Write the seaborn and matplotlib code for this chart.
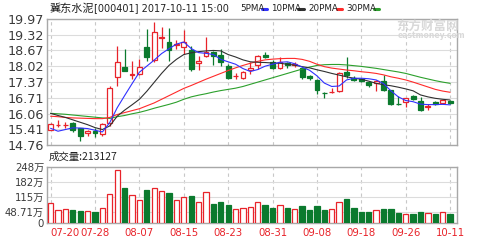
import matplotlib
matplotlib.use("Agg")
import matplotlib.pyplot as plt
import seaborn as sns
import numpy as np
import pandas as pd
from matplotlib.lines import Line2D

# ---------------- data ----------------
dates = ["07-20","07-21","07-24","07-25","07-26","07-27","07-28","07-31",
         "08-01","08-02","08-03","08-04","08-07","08-08","08-09","08-10","08-11",
         "08-14","08-15","08-16","08-17","08-18","08-21","08-22","08-23","08-24",
         "08-25","08-28","08-29","08-30","08-31","09-01","09-04","09-05","09-06",
         "09-07","09-08","09-11","09-12","09-13","09-14","09-15","09-18","09-19",
         "09-20","09-21","09-22","09-25","09-26","09-27","09-28","09-29","10-09",
         "10-10","10-11"]
opens  = [15.38,15.58,15.58,15.66,15.45,15.25,15.35,15.20,15.66,17.58,17.97,17.66,17.69,18.80,
          18.28,19.18,19.03,18.90,18.80,18.69,18.14,18.42,18.60,18.48,18.04,17.60,17.52,17.86,
          18.07,18.48,18.20,17.93,18.14,18.08,17.93,17.61,17.45,16.92,16.94,16.99,17.77,17.54,
          17.47,17.38,17.31,17.40,17.03,16.47,16.53,16.79,16.58,16.34,16.53,16.50,16.58]
closes = [15.62,15.60,15.60,15.38,15.14,15.34,15.24,15.62,17.13,18.18,17.84,17.69,18.00,18.41,
          19.42,19.21,18.67,18.95,19.00,17.90,18.24,18.60,18.46,18.20,17.52,17.62,17.77,17.96,
          18.45,18.38,17.93,18.18,18.07,18.12,17.58,17.54,17.03,16.90,16.96,17.72,17.65,17.45,
          17.42,17.24,17.40,17.03,16.45,16.45,16.69,16.66,16.20,16.36,16.45,16.62,16.49]
highs  = [15.66,15.80,15.72,15.71,15.47,15.38,15.45,15.66,17.18,18.86,18.75,18.22,18.30,19.55,
          19.83,19.62,19.60,19.10,19.50,18.85,18.45,19.22,18.64,18.72,18.10,17.75,17.80,18.20,
          18.47,18.60,18.28,18.38,18.20,18.18,17.96,17.65,17.48,16.97,17.12,17.78,18.41,17.60,
          17.52,17.42,17.45,17.65,17.05,16.80,16.70,16.82,16.75,16.45,16.60,16.64,16.62]
lows   = [15.36,15.50,15.45,15.28,14.93,15.14,15.10,15.13,15.55,17.21,17.80,17.49,17.65,18.22,
          18.20,18.76,18.25,18.75,18.52,17.82,17.86,18.40,18.07,18.03,17.47,17.49,17.48,17.70,
          17.90,18.35,17.90,17.90,17.96,18.00,17.49,17.46,16.86,16.69,16.90,16.97,17.55,17.40,
          17.38,17.15,17.00,17.00,16.42,16.43,16.32,16.62,16.18,16.22,16.40,16.46,16.46]
volumes = [87,58,61,56,53,53,50,65,127,235,156,123,102,146,155,142,132,102,115,120,94,136,84,
           94,78,61,68,71,94,80,68,80,65,63,75,58,75,58,61,94,106,65,49,49,59,61,61,46,41,39,
           47,44,41,47,41]
ma5  = [15.45,15.33,15.40,15.47,15.46,15.44,15.37,15.30,15.69,16.30,16.80,17.29,17.77,18.02,
        18.27,18.54,18.74,18.93,19.02,18.75,18.58,18.55,18.50,18.30,18.20,18.10,17.92,17.80,
        17.88,18.02,18.10,18.18,18.20,18.12,17.98,17.85,17.62,17.32,17.18,17.20,17.45,17.52,
        17.52,17.50,17.45,17.30,17.00,16.75,16.60,16.55,16.45,16.43,16.43,16.44,16.42]
ma10 = [16.07,15.98,15.90,15.80,15.70,15.60,15.48,15.40,15.55,15.95,16.20,16.42,16.65,16.98,
        17.35,17.72,18.05,18.30,18.50,18.57,18.62,18.65,18.67,18.65,18.50,18.40,18.28,18.20,
        18.18,18.17,18.15,18.14,18.10,18.06,18.00,17.95,17.87,17.80,17.72,17.65,17.58,17.52,
        17.48,17.40,17.31,17.25,17.21,17.15,17.08,17.00,16.83,16.75,16.69,16.65,16.62]
ma20 = [15.95,15.93,15.90,15.88,15.87,15.86,15.85,15.85,15.90,16.02,16.10,16.18,16.26,16.38,
        16.50,16.65,16.80,16.95,17.10,17.22,17.35,17.48,17.60,17.72,17.84,17.95,18.05,18.14,
        18.22,18.28,18.31,18.33,18.34,18.34,18.30,18.22,18.10,18.00,17.94,17.90,17.86,17.83,
        17.79,17.76,17.72,17.66,17.58,17.52,17.45,17.36,17.26,17.16,17.06,16.99,16.94]
ma30 = [16.07,16.05,16.03,16.00,15.97,15.94,15.91,15.88,15.86,15.93,15.98,16.05,16.11,16.19,
        16.28,16.36,16.44,16.53,16.65,16.75,16.82,16.88,16.95,17.01,17.06,17.11,17.18,17.27,
        17.36,17.45,17.54,17.63,17.72,17.81,17.90,17.98,18.05,18.08,18.09,18.09,18.07,18.04,
        18.01,17.97,17.93,17.88,17.83,17.78,17.72,17.64,17.56,17.49,17.42,17.36,17.31]

price_ticks = [14.76, 15.41, 16.06, 16.71, 17.37, 18.02, 18.67, 19.32, 19.97]
vol_ticks = [0, 48.71, 115, 182, 248]
vol_tick_labels = ["0", "48.71万", "115万", "182万", "248万"]
ma_names = ["5PMA", "10PMA", "20PMA", "30PMA"]
ma_colors = ["#3030ff", "#303030", "#ff2a2a", "#2ca02c"]
title_name = "冀东水泥"
title_rest = "[000401] 2017-10-11 15:00"
vol_caption = "成交量:213127"

# ---------------- style ----------------
sns.set_style("white")
plt.rcParams["font.family"] = ["DejaVu Sans", "Noto Sans CJK SC"]

RED = "#e8232a"
GREEN = "#0b7a2e"

df = pd.DataFrame({"i": np.arange(len(dates)), "date": dates, "open": opens,
                   "close": closes, "high": highs, "low": lows, "vol": volumes,
                   "ma5": ma5, "ma10": ma10, "ma20": ma20, "ma30": ma30})
df["up"] = df["close"] >= df["open"]

W, H = 502, 240
fig = plt.figure(figsize=(W / 100, H / 100), dpi=100)
left, right = 47.5, 457
ax = fig.add_axes([left / W, 1 - 145 / H, (right - left) / W, (145 - 19) / H])
axv = fig.add_axes([left / W, 1 - 223 / H, (right - left) / W, (223 - 167) / H])

xlim = (-0.42, 54.93)
tick_idx = list(range(0, len(dates), 6))

# watermark
fig.text(396 / W, 1 - 26 / H, "东方财富网", fontsize=9, color="#d9d9d9",
         fontweight="bold", family=["Noto Sans CJK SC"], va="center", ha="left", zorder=0)
fig.text(398 / W, 1 - 35.5 / H, "eastmoney.com", fontsize=5.5, color="#d9d9d9",
         fontweight="bold", va="center", ha="left", zorder=0)

# ---------------- panels ----------------
for a in (ax, axv):
    a.set_facecolor("none")
    for s in a.spines.values():
        s.set_color("#a8a8a8")
        s.set_linewidth(1.0)
    a.set_xlim(*xlim)
    a.set_xticks(tick_idx)
    a.grid(axis="x", color="#c8c8c8", linestyle=(0, (3, 3)), linewidth=0.8)
    a.grid(axis="y", color="#dcdcdc", linestyle="-", linewidth=0.8)
    a.tick_params(length=0, pad=2.5, labelcolor="#3a3a3a")
    a.set_axisbelow(True)

ax.tick_params(axis="y", labelsize=9.2)
ax.set_ylim(price_ticks[0], price_ticks[-1])
ax.set_yticks(price_ticks)
ax.set_yticklabels([f"{v:.2f}" for v in price_ticks])
ax.set_xticklabels([])

for name, col in zip(["ma30", "ma20", "ma10", "ma5"], ["#2ca02c", "#ff2a2a", "#303030", "#3030ff"]):
    sns.lineplot(data=df, x="i", y=name, ax=ax, color=col, linewidth=0.8, legend=False, zorder=4)

edge = np.where(df["up"], RED, GREEN)
face = np.where(df["up"], "white", GREEN)
ax.vlines(df["i"], df["low"], df["high"], colors=edge, linewidth=0.9, zorder=2)
body_lo = np.minimum(df["open"], df["close"])
body_h = np.maximum(np.abs(df["close"] - df["open"]), 0.012)
ax.bar(df["i"], body_h, bottom=body_lo, width=0.66, color=face, edgecolor=edge,
       linewidth=0.9, zorder=3)
ax.set_xlabel("")
ax.set_ylabel("")

axv.set_ylim(0, 248)
axv.set_yticks(vol_ticks)
axv.set_yticklabels(vol_tick_labels)
axv.tick_params(axis="y", labelsize=7.3)
vface = np.where(df["up"], "white", GREEN)
axv.bar(df["i"], df["vol"], width=0.72, color=vface, edgecolor=edge, linewidth=0.9, zorder=3)
axv.set_xticklabels([dates[i] for i in tick_idx], color="#e8232a", fontsize=7.3)
axv.tick_params(axis="x", pad=3.5)
axv.get_xticklabels()[0].set_ha("left")
axv.set_xlabel("")
axv.set_ylabel("")

# ---------------- header texts ----------------
fig.text(49 / W, 1 - 8.5 / H, title_name, fontsize=8, family=["Noto Sans CJK SC"],
         va="center", ha="left", color="#222222")
fig.text(94 / W, 1 - 8.5 / H, title_rest, fontsize=7, va="center", ha="left", color="#222222")
leg_x = [240, 271, 308, 346]
dash_x = [(262, 267.5), (298, 303.5), (337, 342.5), (374, 379.5)]
for nm, col, lx, (d0, d1) in zip(ma_names, ma_colors, leg_x, dash_x):
    fig.text(lx / W, 1 - 8.5 / H, nm, fontsize=6.3, va="center", ha="left", color="#222222")
    fig.add_artist(Line2D([d0 / W, d1 / W], [1 - 8.5 / H, 1 - 8.5 / H], color=col,
                          linewidth=2.2, transform=fig.transFigure))

fig.text(49 / W, 1 - 156.5 / H, vol_caption, fontsize=7.5, family=["Noto Sans CJK SC"],
         va="center", ha="left", color="#222222")

fig.savefig("out.png", dpi=100, facecolor="white")
